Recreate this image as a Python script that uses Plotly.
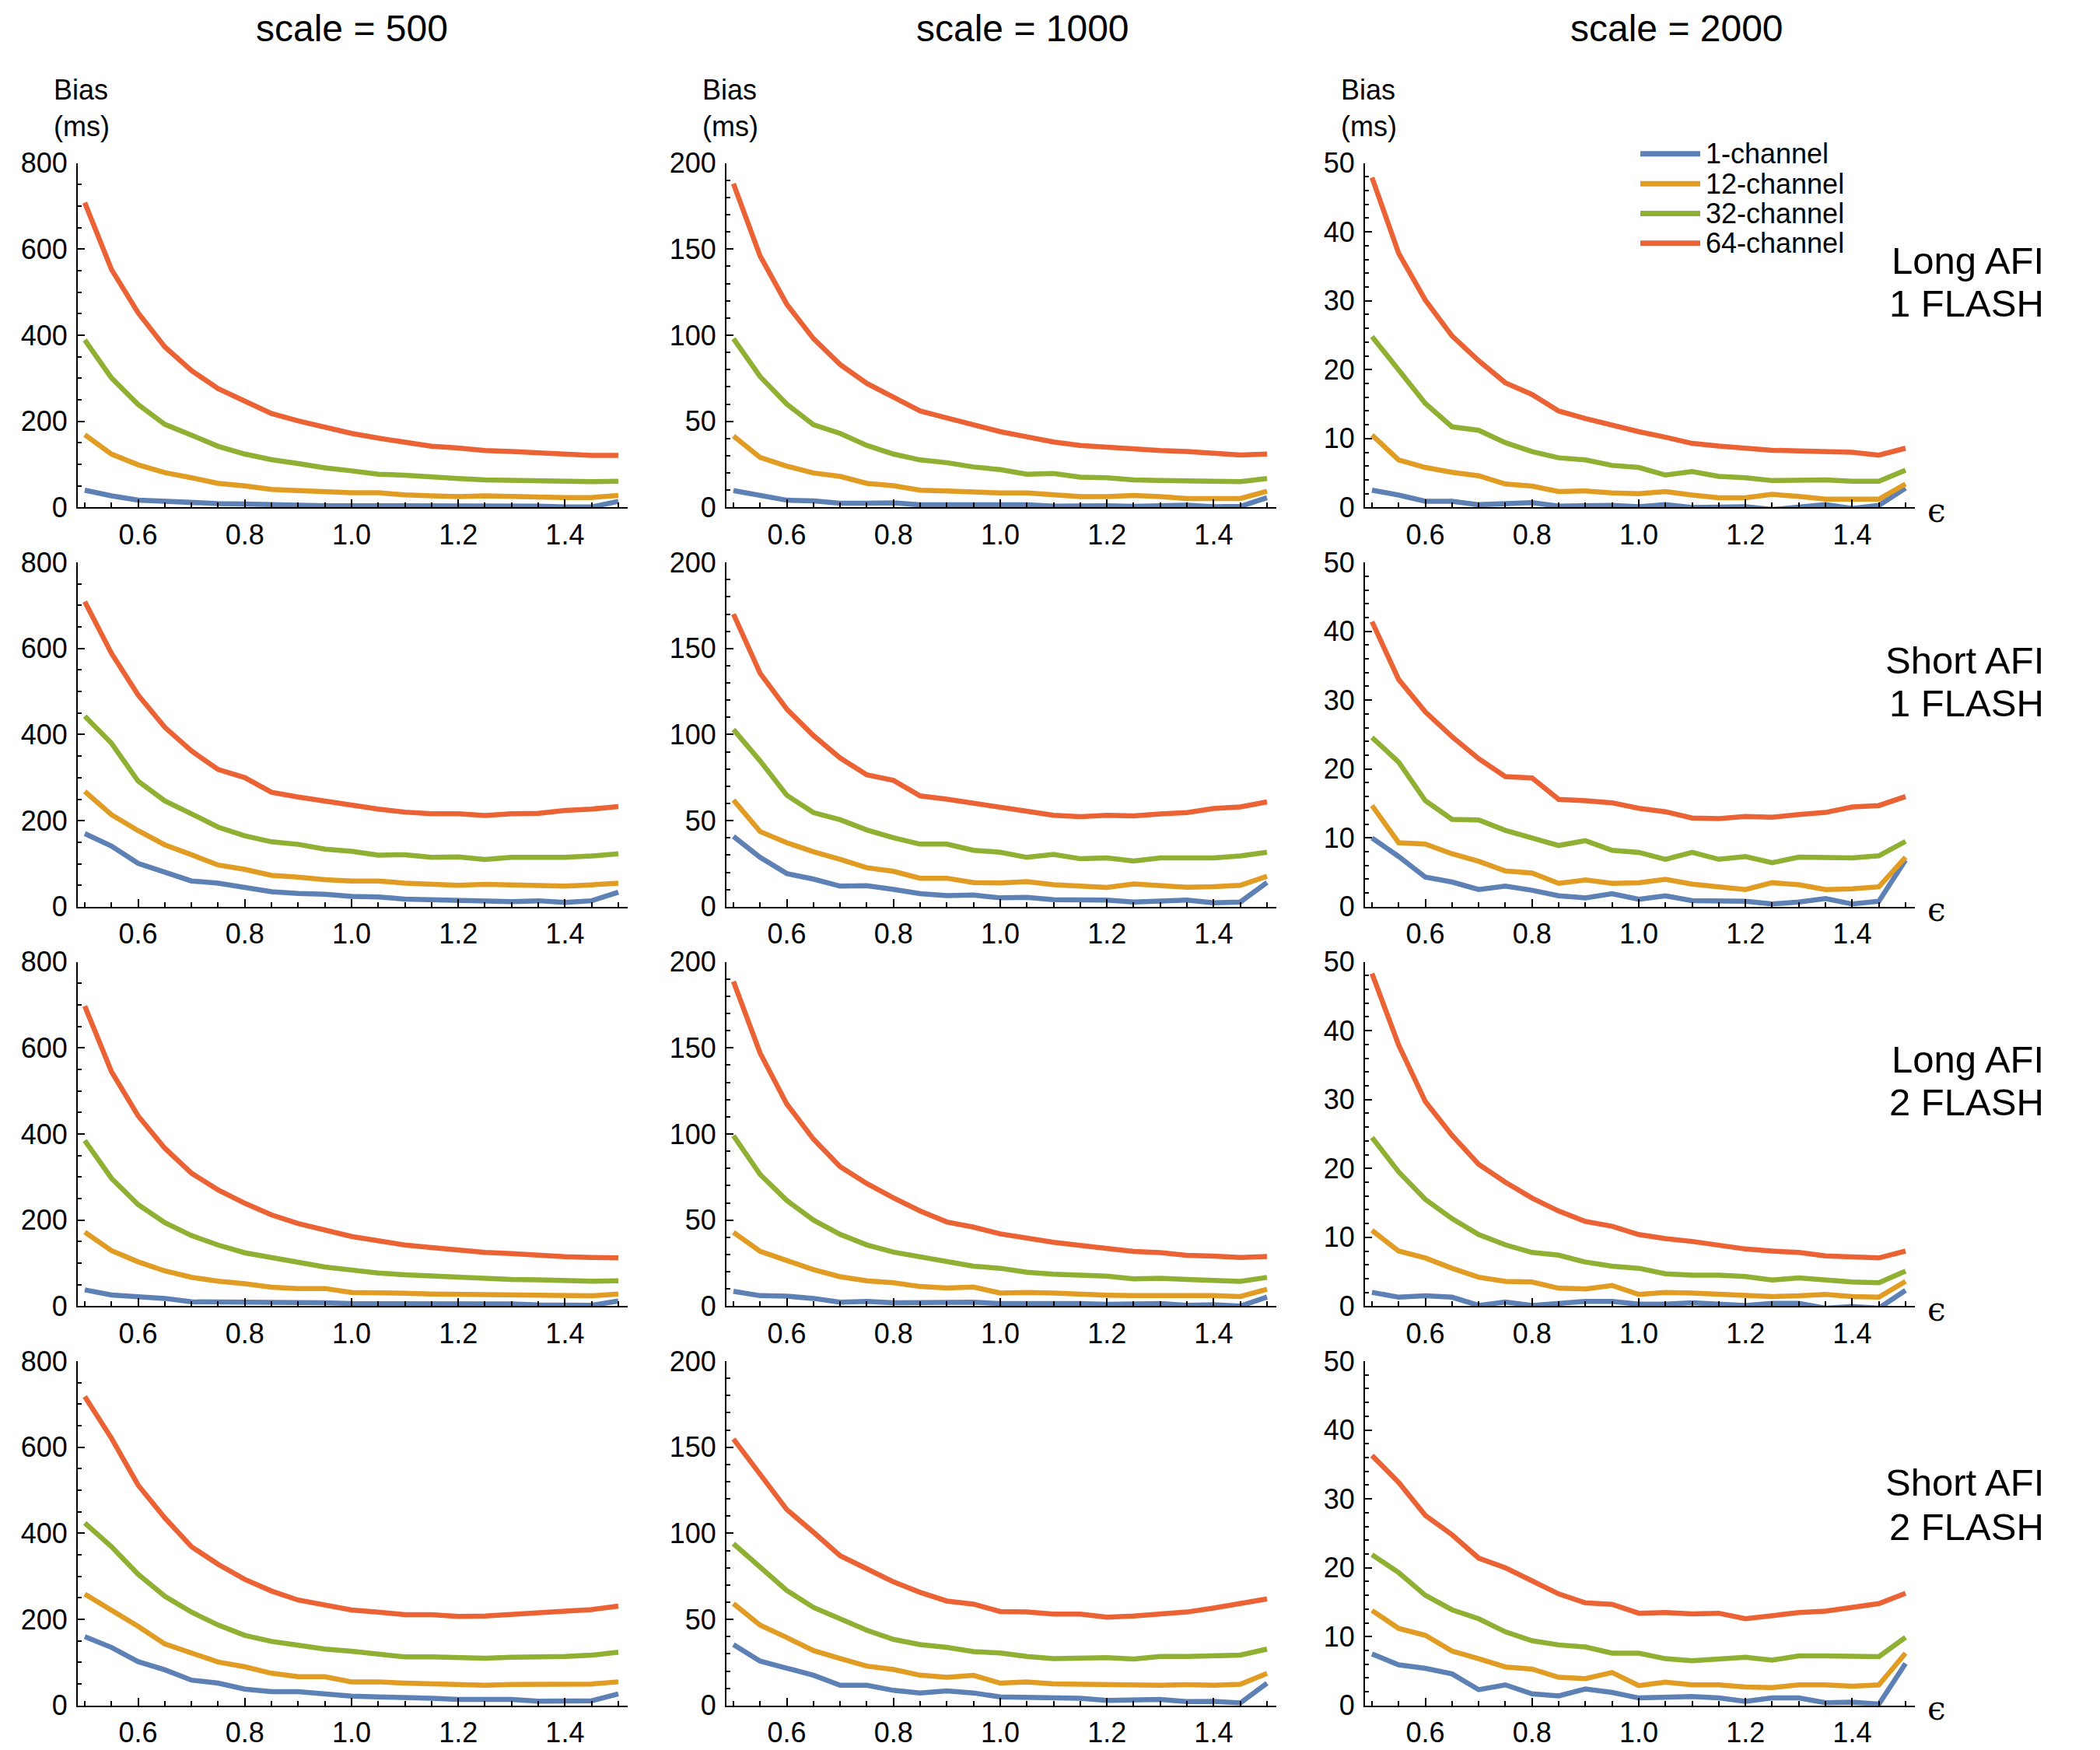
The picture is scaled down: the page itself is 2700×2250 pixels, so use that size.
import plotly.graph_objects as go

# ---------------- data ----------------
eps = [0.5, 0.55, 0.6, 0.65, 0.7, 0.75, 0.8, 0.85, 0.9, 0.95, 1.0,
       1.05, 1.1, 1.15, 1.2, 1.25, 1.3, 1.35, 1.4, 1.45, 1.5]

channels = ["1-channel", "12-channel", "32-channel", "64-channel"]
colors = ["#5E81B5", "#E19C24", "#8FB032", "#EB6235"]
scales = ["scale = 500", "scale = 1000", "scale = 2000"]
row_labels = [("Long AFI", "1 FLASH"), ("Short AFI", "1 FLASH"),
              ("Long AFI", "2 FLASH"), ("Short AFI", "2 FLASH")]
y_max = [800, 200, 50]
y_major = [200, 50, 10]
y_minor = [50, 10, 2]
x_ticks = [0.6, 0.8, 1.0, 1.2, 1.4]

# Row 1: Long AFI, 1 FLASH
long1_s500_c1 = [40, 27, 17, 14, 10, 9, 8, 6, 5, 4, 4, 4, 3, 3, 3, 2, 2, 3, 1, 1, 14]
long1_s500_c12 = [169, 124, 99, 81, 69, 56, 50, 42, 39, 36, 34, 34, 29, 27, 25, 27, 25, 23, 23, 23, 28]
long1_s500_c32 = [389, 301, 239, 193, 168, 142, 124, 111, 102, 92, 85, 77, 75, 70, 67, 64, 63, 61, 60, 60, 61]
long1_s500_c64 = [708, 553, 452, 373, 318, 276, 247, 218, 201, 186, 172, 161, 151, 142, 138, 132, 130, 127, 124, 121, 121]

long1_s1000_c1 = [9.8, 7.3, 4.2, 3.8, 2.5, 2.5, 2.7, 1.5, 1.5, 1.7, 1.3, 1.5, 0.8, 1.0, 1.0, 0.6, 0.6, 1.3, 0.4, 0.6, 5.7]
long1_s1000_c12 = [41.5, 29, 24, 20, 18, 14, 12.6, 10, 9.6, 8.8, 8.4, 8.4, 7.3, 6.3, 6.3, 7.0, 6.3, 5.2, 5.2, 5.2, 9.4]
long1_s1000_c32 = [98, 76, 60, 48, 43, 36, 31, 27.6, 26, 23.5, 22, 19.3, 19.7, 17.6, 17.2, 16, 15.7, 15.7, 15, 15, 16.8]
long1_s1000_c64 = [188, 146, 118, 98, 83, 72, 64, 56, 52, 48, 44, 41, 38, 36, 35, 33.5, 33, 32.5, 31.4, 30.4, 31]

long1_s2000_c1 = [2.5, 1.8, 0.9, 0.9, 0.4, 0.5, 0.7, 0.2, 0.2, 0.3, 0.1, 0.4, 0.0, 0.1, 0.1, -0.3, 0.0, 0.4, -0.15, 0.3, 2.8]
long1_s2000_c12 = [10.5, 6.9, 5.8, 5.1, 4.6, 3.4, 3.1, 2.3, 2.4, 2.1, 2.0, 2.3, 1.8, 1.4, 1.4, 1.9, 1.6, 1.2, 1.2, 1.2, 3.4]
long1_s2000_c32 = [24.8, 19.9, 15.1, 11.7, 11.2, 9.4, 8.1, 7.2, 6.9, 6.1, 5.8, 4.7, 5.2, 4.5, 4.3, 3.9, 3.9, 4.0, 3.8, 3.8, 5.4]
long1_s2000_c64 = [47.9, 36.9, 30.1, 24.9, 21.3, 18.1, 16.4, 14.0, 12.9, 11.9, 11.0, 10.2, 9.3, 8.9, 8.6, 8.3, 8.2, 8.1, 8.0, 7.6, 8.6]

# Row 2: Short AFI, 1 FLASH
short1_s500_c1 = [170, 141, 101, 81, 60, 55, 45, 35, 31, 29, 24, 23, 18, 16, 16, 12, 12, 14, 10, 14, 34]
short1_s500_c12 = [268, 214, 177, 144, 121, 97, 87, 73, 69, 63, 60, 60, 55, 52, 50, 52, 50, 48, 48, 51, 55]
short1_s500_c32 = [443, 380, 292, 246, 216, 185, 165, 151, 145, 134, 129, 120, 121, 115, 116, 110, 115, 115, 115, 118, 123]
short1_s500_c64 = [709, 589, 492, 417, 362, 319, 300, 266, 255, 245, 235, 227, 220, 216, 216, 212, 216, 217, 224, 227, 233]

short1_s1000_c1 = [40.9, 28.7, 19.3, 16.1, 12.0, 12.2, 10.1, 7.6, 6.5, 6.8, 5.2, 5.5, 4.1, 4.1, 3.9, 2.8, 3.1, 3.9, 2.3, 2.8, 14.1]
short1_s1000_c12 = [62, 43.7, 37.2, 32, 27.6, 22.7, 20.6, 16.6, 16.6, 14.1, 13.8, 14.6, 12.8, 12.0, 11.2, 13.3, 12.5, 11.4, 11.7, 12.5, 17.7]
short1_s1000_c32 = [103, 84.7, 64.8, 54.7, 50.6, 44.6, 40.1, 36.4, 36.4, 32.8, 31.7, 28.7, 30.4, 27.9, 28.4, 26.6, 28.4, 28.4, 28.4, 29.5, 31.7]
short1_s1000_c64 = [170, 135.6, 114.8, 99.4, 86.4, 76.6, 73.4, 64.4, 62.5, 60.4, 57.6, 55.5, 53.1, 52.3, 53.1, 52.8, 53.9, 54.7, 57.1, 58, 60.9]

short1_s2000_c1 = [10, 7.3, 4.3, 3.6, 2.5, 3.0, 2.4, 1.6, 1.3, 1.9, 1.1, 1.6, 0.9, 0.9, 0.8, 0.4, 0.7, 1.2, 0.4, 0.8, 6.8]
short1_s2000_c12 = [14.7, 9.3, 9.1, 7.7, 6.6, 5.2, 4.9, 3.4, 3.9, 3.4, 3.5, 4.0, 3.3, 2.9, 2.5, 3.5, 3.2, 2.5, 2.6, 2.9, 7.2]
short1_s2000_c32 = [24.6, 21, 15.4, 12.7, 12.6, 11.1, 10, 8.9, 9.6, 8.2, 7.9, 6.9, 7.9, 6.9, 7.3, 6.4, 7.2, 7.2, 7.1, 7.4, 9.5]
short1_s2000_c64 = [41.4, 33, 28.3, 24.7, 21.5, 18.9, 18.7, 15.6, 15.4, 15.1, 14.3, 13.8, 12.9, 12.8, 13.1, 13, 13.4, 13.7, 14.5, 14.7, 16]

# Row 3: Long AFI, 2 FLASH
long2_s500_c1 = [38, 26, 22, 18, 10, 10, 8, 8, 8, 8, 6, 6, 6, 5, 5, 5, 5, 3, 3, 2, 12]
long2_s500_c12 = [172, 129, 103, 82, 67, 58, 52, 44, 41, 41, 32, 32, 30, 28, 27, 26, 26, 26, 24, 24, 28]
long2_s500_c32 = [385, 297, 236, 194, 164, 142, 124, 112, 100, 91, 84, 77, 73, 70, 67, 64, 62, 61, 59, 58, 59]
long2_s500_c64 = [697, 545, 442, 367, 309, 270, 239, 212, 192, 177, 162, 152, 142, 136, 130, 125, 122, 118, 115, 113, 112]

long2_s1000_c1 = [8.6, 6.1, 5.8, 4.5, 2.3, 2.7, 2.0, 2.0, 2.6, 2.3, 1.5, 1.5, 2.0, 1.5, 1.1, 1.5, 1.5, 0.5, 0.8, 0.0, 5.3]
long2_s1000_c12 = [42.9, 31.8, 26.5, 21.2, 17.1, 14.7, 13.6, 11.4, 10.6, 11.1, 7.6, 8.0, 7.6, 6.8, 6.4, 6.1, 6.1, 6.4, 6.1, 5.6, 9.8]
long2_s1000_c32 = [99, 76.5, 61.4, 50, 41.7, 35.6, 31.4, 28.8, 25.8, 23.2, 22, 19.7, 18.6, 18.2, 17.4, 15.9, 16.2, 15.5, 14.7, 14.4, 16.7]
long2_s1000_c64 = [188.6, 147, 117.4, 97, 81, 71.2, 62.9, 55.3, 48.9, 45.9, 42, 39.4, 37.1, 35.3, 33.3, 31.8, 31.1, 29.5, 29.1, 28.3, 28.8]

long2_s2000_c1 = [2.0, 1.3, 1.5, 1.3, 0.1, 0.6, 0.1, 0.4, 0.7, 0.7, 0.3, 0.3, 0.5, 0.3, 0.1, 0.4, 0.4, -0.3, -0.05, -0.3, 2.3]
long2_s2000_c12 = [11, 8, 7, 5.5, 4.2, 3.6, 3.5, 2.6, 2.5, 3.0, 1.7, 2.0, 1.9, 1.7, 1.5, 1.4, 1.5, 1.7, 1.4, 1.3, 3.6]
long2_s2000_c32 = [24.5, 19.5, 15.5, 12.7, 10.4, 8.9, 7.8, 7.4, 6.4, 5.8, 5.5, 4.7, 4.5, 4.5, 4.3, 3.8, 4.1, 3.8, 3.5, 3.4, 5.1]
long2_s2000_c64 = [48.3, 37.9, 29.7, 24.8, 20.6, 18, 15.7, 13.8, 12.3, 11.6, 10.4, 9.8, 9.4, 8.9, 8.3, 8.0, 7.8, 7.3, 7.2, 7.0, 8.0]

# Row 4: Short AFI, 2 FLASH
short2_s500_c1 = [160, 135, 102, 83, 59, 52, 38, 32, 32, 27, 22, 20, 19, 17, 14, 14, 14, 10, 10, 11, 27]
short2_s500_c12 = [259, 223, 184, 143, 123, 101, 90, 75, 67, 67, 55, 55, 52, 50, 49, 47, 49, 49, 49, 50, 55]
short2_s500_c32 = [424, 369, 305, 254, 217, 187, 163, 149, 140, 131, 126, 119, 113, 113, 112, 110, 112, 112, 114, 117, 124]
short2_s500_c64 = [718, 621, 512, 436, 369, 328, 293, 266, 245, 234, 222, 217, 211, 211, 207, 208, 211, 214, 219, 223, 231]

short2_s1000_c1 = [35.4, 25.8, 21.7, 17.6, 11.8, 11.8, 8.8, 7.3, 8.5, 7.3, 5.0, 4.7, 4.7, 4.2, 3.0, 3.5, 3.5, 2.3, 2.4, 1.5, 13]
short2_s1000_c12 = [59.2, 46.7, 39.5, 31.9, 27.3, 22.9, 20.9, 17.6, 16.4, 17.5, 13, 13.7, 12.6, 12.3, 11.8, 11.5, 11.8, 12.1, 11.8, 12.3, 18.7]
short2_s1000_c32 = [94, 80.4, 66.8, 57, 50.5, 43.7, 38.4, 35.4, 33.8, 31.3, 30.5, 28.5, 27.3, 27.8, 27.8, 27, 28.5, 28.5, 28.8, 29.3, 32.8]
short2_s1000_c64 = [154.8, 134, 113.8, 100.6, 87, 79.4, 71.8, 65.7, 60.7, 58.9, 54.6, 54.3, 53.1, 53.1, 51.3, 52, 53.3, 54.3, 56.6, 58.9, 61.9]

short2_s2000_c1 = [7.5, 5.9, 5.4, 4.6, 2.3, 3.0, 1.7, 1.4, 2.4, 1.9, 1.1, 1.2, 1.3, 1.1, 0.6, 1.1, 1.1, 0.4, 0.5, 0.2, 6.1]
short2_s2000_c12 = [13.8, 11.2, 10.2, 7.9, 6.8, 5.6, 5.3, 4.1, 3.9, 4.8, 2.9, 3.4, 3.0, 3.0, 2.7, 2.6, 3.0, 3.0, 2.8, 3.0, 7.6]
short2_s2000_c32 = [21.9, 19.3, 16, 13.9, 12.6, 10.7, 9.4, 8.8, 8.5, 7.6, 7.6, 6.8, 6.5, 6.8, 7.0, 6.6, 7.2, 7.2, 7.1, 7.1, 9.9]
short2_s2000_c64 = [36.3, 32.4, 27.6, 24.8, 21.4, 20, 18.1, 16.2, 14.9, 14.7, 13.4, 13.5, 13.3, 13.4, 12.6, 13.1, 13.5, 13.7, 14.3, 14.8, 16.3]

panels = [
    [[long1_s500_c1, long1_s500_c12, long1_s500_c32, long1_s500_c64],
     [long1_s1000_c1, long1_s1000_c12, long1_s1000_c32, long1_s1000_c64],
     [long1_s2000_c1, long1_s2000_c12, long1_s2000_c32, long1_s2000_c64]],
    [[short1_s500_c1, short1_s500_c12, short1_s500_c32, short1_s500_c64],
     [short1_s1000_c1, short1_s1000_c12, short1_s1000_c32, short1_s1000_c64],
     [short1_s2000_c1, short1_s2000_c12, short1_s2000_c32, short1_s2000_c64]],
    [[long2_s500_c1, long2_s500_c12, long2_s500_c32, long2_s500_c64],
     [long2_s1000_c1, long2_s1000_c12, long2_s1000_c32, long2_s1000_c64],
     [long2_s2000_c1, long2_s2000_c12, long2_s2000_c32, long2_s2000_c64]],
    [[short2_s500_c1, short2_s500_c12, short2_s500_c32, short2_s500_c64],
     [short2_s1000_c1, short2_s1000_c12, short2_s1000_c32, short2_s1000_c64],
     [short2_s2000_c1, short2_s2000_c12, short2_s2000_c32, short2_s2000_c64]],
]

# ---------------- layout geometry (page pixels) ----------------
W, H = 2700, 2250
OFF = 8  # default body margin of the html page
col_px = [(100, 807), (934, 1641), (1755, 2462)]
row_px = [(193, 644), (716, 1167), (1239, 1690), (1762, 2213)]
FONT = "Liberation Sans, Arial, Helvetica, sans-serif"


def px(x):
    return (x - OFF) / W


def py(y):
    return 1 - (y - OFF) / H


fig = go.Figure()
layout = dict(
    width=W, height=H,
    margin=dict(l=0, r=0, t=0, b=0),
    paper_bgcolor="white", plot_bgcolor="white",
    showlegend=False,
    font=dict(family=FONT, size=36, color="black"),
)

annotations = []
shapes = []

for r in range(4):
    for c in range(3):
        idx = r * 3 + c + 1
        xa = "xaxis" if idx == 1 else f"xaxis{idx}"
        ya = "yaxis" if idx == 1 else f"yaxis{idx}"
        xr = "x" if idx == 1 else f"x{idx}"
        yr = "y" if idx == 1 else f"y{idx}"
        x0, x1 = col_px[c]
        y0, y1 = row_px[r]
        layout[xa] = dict(
            domain=[px(x0), px(x1)], anchor=yr,
            range=[0.4869, 1.5175],
            showline=True, linecolor="black", linewidth=2,
            showgrid=False, zeroline=False,
            ticks="inside", ticklen=10, tickwidth=2, tickcolor="black",
            tickvals=x_ticks, ticktext=[f"{v:.1f}" for v in x_ticks],
            tickfont=dict(family=FONT, size=36, color="black"),
            ticklabelstandoff=2,
            minor=dict(ticks="inside", ticklen=6, tickwidth=1.5, tickcolor="black",
                       dtick=0.05, tick0=0, showgrid=False),
            fixedrange=True,
        )
        layout[ya] = dict(
            domain=[py(y1), py(y0)], anchor=xr,
            range=[0, y_max[c]],
            showline=True, linecolor="black", linewidth=2,
            showgrid=False, zeroline=False,
            ticks="inside", ticklen=9, tickwidth=2, tickcolor="black",
            tick0=0, dtick=y_major[c],
            tickfont=dict(family=FONT, size=36, color="black"),
            ticklabelstandoff=4,
            minor=dict(ticks="inside", ticklen=5, tickwidth=1.5, tickcolor="black",
                       dtick=y_minor[c], tick0=0, showgrid=False),
            fixedrange=True,
        )
        for k in range(4):
            fig.add_trace(go.Scatter(
                x=eps, y=panels[r][c][k], mode="lines",
                name=channels[k],
                line=dict(color=colors[k], width=6.5),
                xaxis=xr, yaxis=yr,
                showlegend=False,
            ))

        if r == 0:
            annotations.append(dict(
                x=px(x0 - 33), y=py(y0 - 72), xref="paper", yref="paper",
                xanchor="left", yanchor="middle", align="left",
                text="Bias<br>(ms)", showarrow=False,
                font=dict(family=FONT, size=36, color="black")))
        if c == 2:
            annotations.append(dict(
                x=px(2490), y=py(y1 + 4), xref="paper", yref="paper",
                xanchor="center", yanchor="middle",
                text="ϵ", showarrow=False,
                font=dict(family="DejaVu Serif, Liberation Serif, serif", size=42, color="black")))

# column titles
title_x = [452, 1315, 2156]
for c in range(3):
    annotations.append(dict(
        x=px(title_x[c]), y=py(17), xref="paper", yref="paper",
        xanchor="center", yanchor="middle", text=scales[c], showarrow=False,
        font=dict(family=FONT, size=48, color="black")))

# row labels (offsets from the top of each row)
row_label_dy = [(128, 184), (128, 184), (128, 184), (159, 217)]
for r in range(4):
    for j in range(2):
        annotations.append(dict(
            x=px(2630), y=py(row_px[r][0] + row_label_dy[r][j]), xref="paper", yref="paper",
            xanchor="right", yanchor="middle", text=row_labels[r][j], showarrow=False,
            font=dict(family=FONT, size=49, color="black")))

# legend (top-right panel), offsets from the top of the first row
leg_dy = [-12, 27, 66, 105]
for k in range(4):
    yk = row_px[0][0] + leg_dy[k]
    shapes.append(dict(
        type="line", xref="paper", yref="paper",
        x0=px(2109), x1=px(2186), y0=py(yk), y1=py(yk),
        line=dict(color=colors[k], width=7)))
    annotations.append(dict(
        x=px(2191), y=py(yk), xref="paper", yref="paper",
        xanchor="left", yanchor="middle", text=channels[k], showarrow=False,
        font=dict(family=FONT, size=36, color="black")))

layout["annotations"] = annotations
layout["shapes"] = shapes
fig.update_layout(**layout)
fig.write_html("out.html")
